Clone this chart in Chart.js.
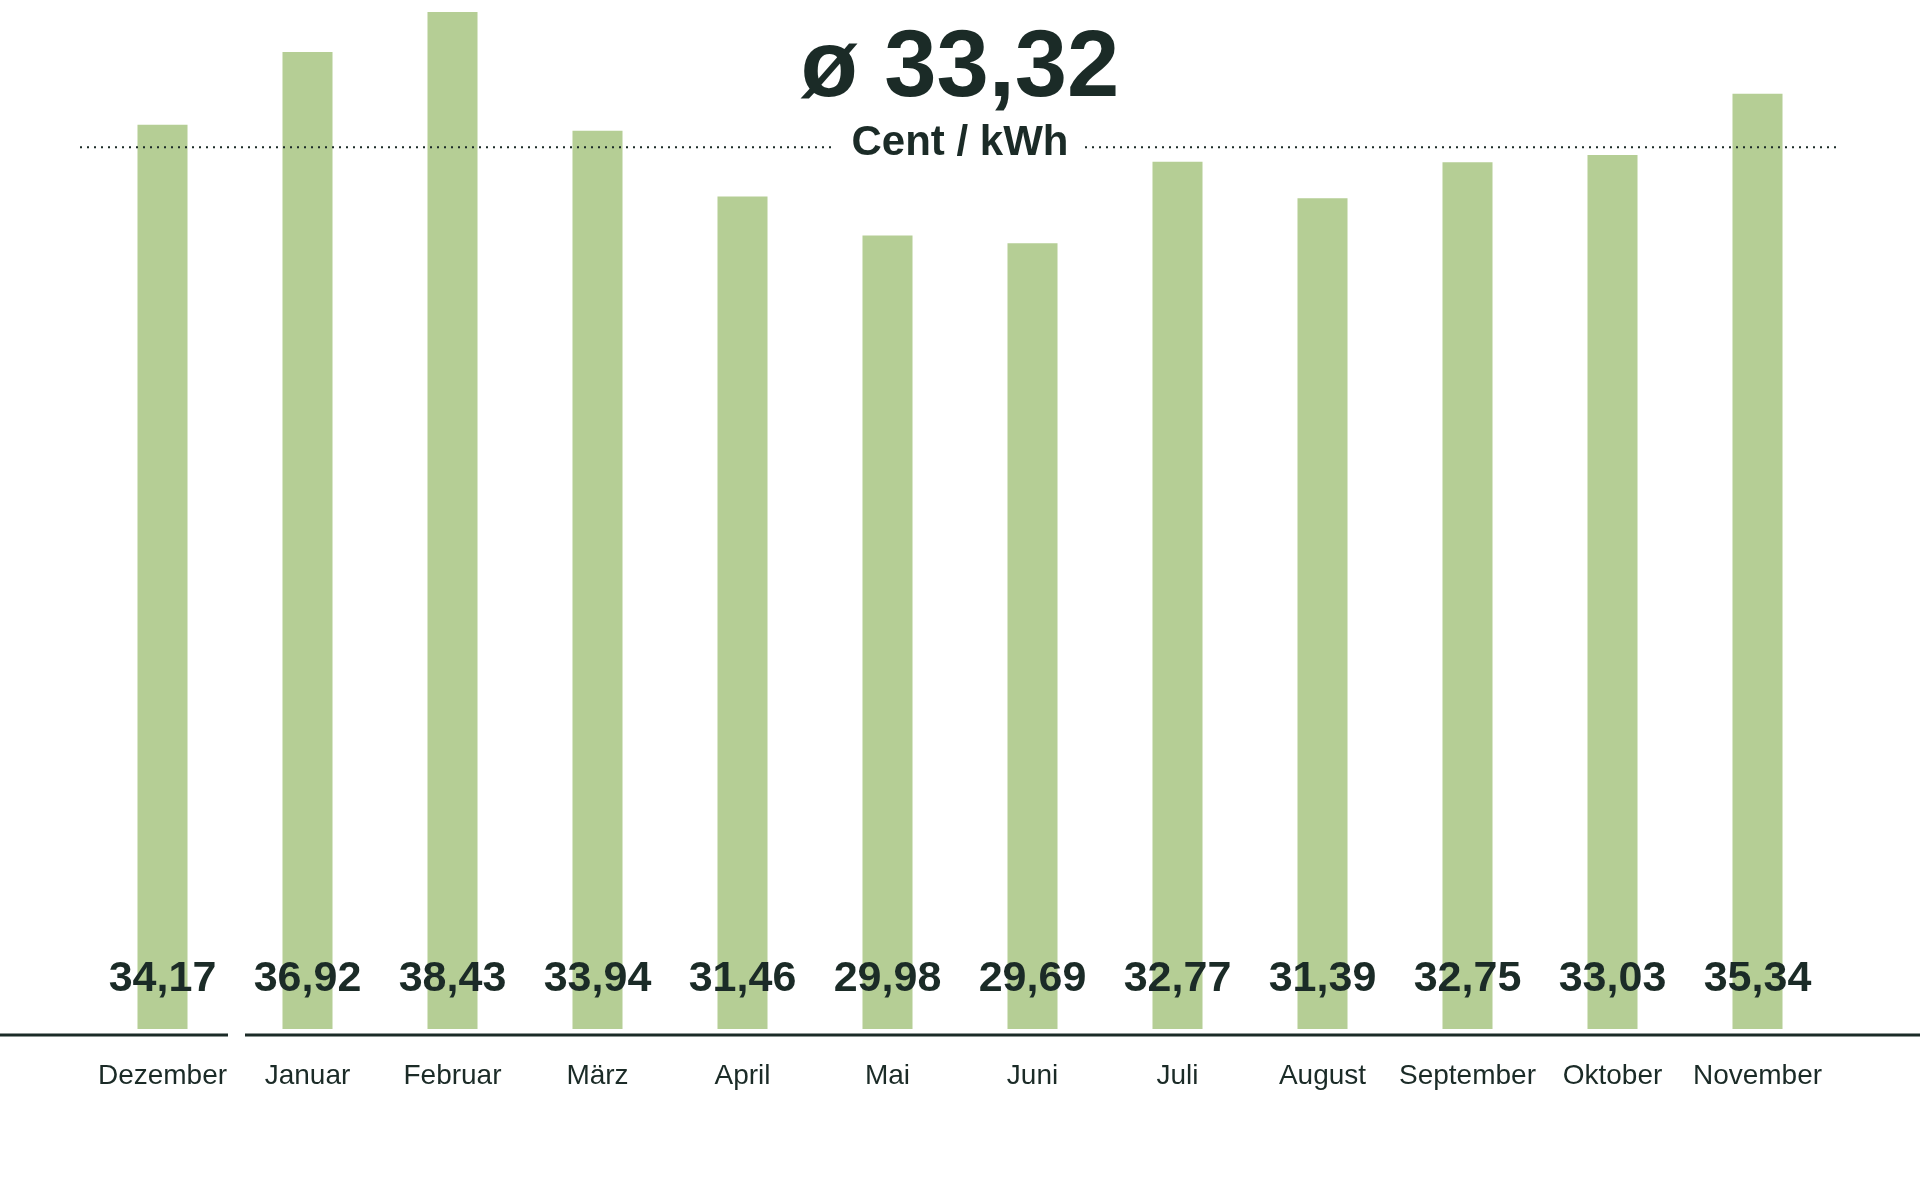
<!DOCTYPE html>
<html>
<head>
<meta charset="utf-8">
<script src="https://cdn.jsdelivr.net/npm/chart.js@4"></script>
<style>
  html, body { margin: 0; padding: 0; background: #fff; }
  #wrap { width: 1920px; height: 1200px; }
</style>
</head>
<body>
<div id="wrap"><canvas id="chart"></canvas></div>
<script>
'use strict';

var months = ['Dezember', 'Januar', 'Februar', 'März', 'April', 'Mai', 'Juni',
              'Juli', 'August', 'September', 'Oktober', 'November'];
var prices = [34.17, 36.92, 38.43, 33.94, 31.46, 29.98, 29.69, 32.77, 31.39, 32.75, 33.03, 35.34];
var average = 33.32;
var unitLabel = 'Cent / kWh';

var INK = '#1b2b27';
var BAR = '#b5ce95';

function fmt(v) {
  return v.toFixed(2).replace('.', ',');
}

// Draws the baseline, average line with its label, value and month labels.
var decorations = {
  id: 'decorations',
  afterDatasetsDraw: function(chart) {
    var ctx = chart.ctx;
    var x = chart.scales.x;
    var y = chart.scales.y;
    var area = chart.chartArea;

    ctx.save();

    // Baseline (with the small gap after the first month).
    ctx.strokeStyle = INK;
    ctx.lineWidth = 3;
    ctx.beginPath();
    ctx.moveTo(0, 1035); ctx.lineTo(228, 1035);
    ctx.moveTo(245, 1035); ctx.lineTo(1920, 1035);
    ctx.stroke();

    // Average line, broken around the unit label.
    var ay = y.getPixelForValue(average);
    ctx.lineWidth = 2;
    ctx.setLineDash([2, 5]);
    ctx.beginPath();
    ctx.moveTo(80, ay); ctx.lineTo(836, ay);
    ctx.moveTo(1085, ay); ctx.lineTo(1840, ay);
    ctx.stroke();
    ctx.setLineDash([]);

    ctx.fillStyle = INK;
    ctx.textAlign = 'center';
    ctx.textBaseline = 'middle';
    ctx.font = 'bold 94px "Liberation Sans", Arial, sans-serif';
    ctx.fillText('ø 33,32', 960, 70);
    ctx.font = 'bold 42px "Liberation Sans", Arial, sans-serif';
    ctx.fillText(unitLabel, 960, 143);

    prices.forEach(function(v, i) {
      var cx = x.getPixelForValue(i);
      ctx.font = 'bold 43px "Liberation Sans", Arial, sans-serif';
      ctx.fillText(fmt(v), cx, 979);
      ctx.font = '28px "Liberation Sans", Arial, sans-serif';
      ctx.fillText(months[i], cx, 1076);
    });

    ctx.restore();
  }
};

new Chart(document.getElementById('chart'), {
  type: 'bar',
  data: {
    labels: months,
    datasets: [{
      data: prices,
      backgroundColor: BAR,
      borderWidth: 0,
      barPercentage: 0.345,
      categoryPercentage: 1
    }]
  },
  options: {
    responsive: true,
    maintainAspectRatio: false,
    animation: false,
    layout: { padding: { left: 90, right: 90, top: 12, bottom: 171 } },
    plugins: { legend: { display: false }, tooltip: { enabled: false } },
    scales: {
      x: { display: false },
      y: { display: false, min: 0, max: 38.43 }
    }
  },
  plugins: [decorations]
});
</script>
</body>
</html>
